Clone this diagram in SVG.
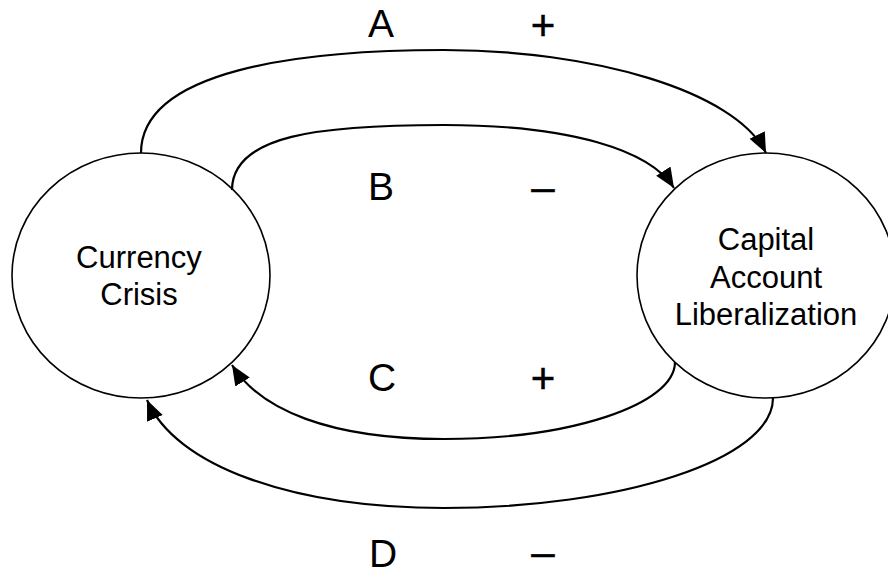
<svg xmlns="http://www.w3.org/2000/svg" width="888" height="577" viewBox="0 0 888 577">
<style>
.node{fill:#fff;stroke:#000;stroke-width:1.6}
.ntext{font-family:"Liberation Sans",Arial,sans-serif;font-size:31px;fill:#000;text-anchor:middle}
.lbl{font-family:"Liberation Sans",Arial,sans-serif;font-size:39px;fill:#000;text-anchor:middle}
.sign{font-family:"Liberation Sans",Arial,sans-serif;font-size:42px;fill:#000;stroke:#000;stroke-width:0.5;text-anchor:middle}
.edge{fill:none;stroke:#000;stroke-width:2.2}
</style>
<defs>
<marker id="arrow" markerUnits="userSpaceOnUse" markerWidth="22" markerHeight="18" refX="20" refY="8.5" orient="auto">
<path d="M0,0 L20,8.5 L0,17 z" fill="#000"/>
</marker>
</defs>
<rect width="888" height="577" fill="#fff"/>
<g id="currency-crisis">
<ellipse class="node" cx="141" cy="275.5" rx="129" ry="122.5"/>
<text class="ntext" x="139" y="268">Currency</text>
<text class="ntext" x="139" y="305">Crisis</text>
</g>
<g id="capital-account-liberalization">
<ellipse class="node" cx="766" cy="275.5" rx="129" ry="122.5"/>
<text class="ntext" x="766" y="250">Capital</text>
<text class="ntext" x="766" y="288">Account</text>
<text class="ntext" x="766" y="325">Liberalization</text>
</g>
<g id="connectors">
<path class="edge" marker-end="url(#arrow)" d="M141,153 C141,70 300,50 444,50 C590,50 735,90 766,153"/>
<path class="edge" marker-end="url(#arrow)" d="M232,190 C232,135 320,125 444,125 C570,125 650,150 674,188"/>
<path class="edge" marker-end="url(#arrow)" d="M675,362 C675,405 570,439 444,439 C330,439 260,410 232,365"/>
<path class="edge" marker-end="url(#arrow)" d="M773,398 C773,460 620,508 444,508 C290,508 175,465 147,400"/>
</g>
<g id="labels">
<text class="lbl" x="381" y="37">A</text>
<text class="sign" x="543" y="40">+</text>
<text class="lbl" x="381" y="200">B</text>
<text class="sign" x="543" y="201">–</text>
<text class="lbl" x="382" y="391">C</text>
<text class="sign" x="543" y="393">+</text>
<text class="lbl" x="383" y="567">D</text>
<text class="sign" x="543" y="566">–</text>
</g>
</svg>
